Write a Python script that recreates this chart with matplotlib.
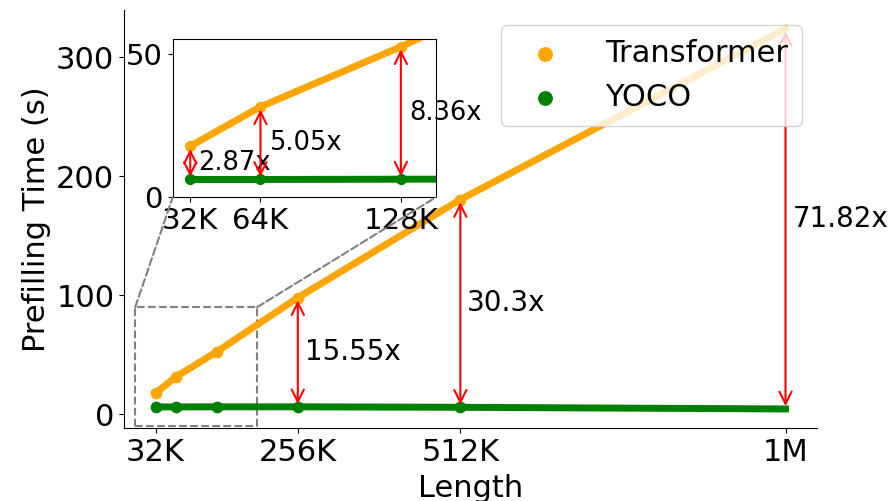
import matplotlib
matplotlib.use("Agg")
import matplotlib.pyplot as plt
from matplotlib.patches import Rectangle, ConnectionPatch

# sequence length in K tokens
lengths = [32, 64, 128, 256, 512, 1024]
tick_labels = ["32K", "256K", "512K", "1M"]
tick_pos = [32, 256, 512, 1024]

transformer = [17.8, 31.5, 52.4, 98.0, 180.4, 324.0]
yoco = [6.2, 6.2, 6.3, 6.3, 5.9, 4.5]
speedups = ["2.87x", "5.05x", "8.36x", "15.55x", "30.3x", "71.82x"]

ORANGE = "orange"
GREEN = "green"

fig = plt.figure(figsize=(8.93, 5.01), dpi=100)
ax = fig.add_axes([0.1389, 0.1457, 0.776, 0.834])

# -------------------------------------------------
# main plot
# -------------------------------------------------
ax.plot(lengths, transformer, color=ORANGE, lw=5, zorder=2)
ax.plot(lengths, yoco, color=GREEN, lw=5, zorder=2)
ax.scatter(lengths[:-1], transformer[:-1], color=ORANGE, s=55, zorder=3, label="Transformer")
ax.scatter(lengths[:-1], yoco[:-1], color=GREEN, s=55, zorder=3, label="YOCO")

for x, t, y, s in list(zip(lengths, transformer, yoco, speedups))[3:]:
    ax.annotate("", xy=(x, t), xytext=(x, y),
                arrowprops=dict(arrowstyle="<->", color="red", lw=1.5, mutation_scale=22))
    ax.annotate(s, xy=(x, (t + y) / 2), xytext=(5, 0), textcoords="offset points",
                ha="left", va="center", fontsize=20)

# zoom box around the short lengths
ax.add_patch(Rectangle((0, -10), 192, 100, fill=False, ls="--", lw=1.5,
                       edgecolor="gray", zorder=1))

ax.set_xlim(-17.6, 1073.6)
ax.set_ylim(-11.5, 339.5)
ax.set_xticks(tick_pos)
ax.set_xticklabels(tick_labels)
ax.set_yticks([0, 100, 200, 300])
ax.tick_params(labelsize=22)
ax.set_xlabel("Length", fontsize=22, labelpad=5)
ax.set_ylabel("Prefilling Time (s)", fontsize=22)
ax.spines["top"].set_visible(False)
ax.spines["right"].set_visible(False)
ax.legend(loc="upper right", fontsize=22, markerscale=1.3,
          borderpad=0.45, handletextpad=0.95)

# -------------------------------------------------
# inset
# -------------------------------------------------
axin = fig.add_axes([0.1934, 0.6062, 0.2948, 0.3154])
axin.plot(lengths, transformer, color=ORANGE, lw=5, marker="o", markersize=7)
axin.plot(lengths, yoco, color=GREEN, lw=5, marker="o", markersize=7)

for x, t, y, s in list(zip(lengths, transformer, yoco, speedups))[:3]:
    axin.annotate("", xy=(x, t), xytext=(x, y),
                  arrowprops=dict(arrowstyle="<->", color="red", lw=1.5, mutation_scale=22))
    axin.annotate(s, xy=(x, (t + y) / 2), xytext=(6, 0), textcoords="offset points",
                  ha="left", va="center", fontsize=18.5)

axin.set_xlim(24, 144)
axin.set_ylim(0, 55)
axin.set_xticks(lengths[:3])
axin.set_xticklabels(["32K", "64K", "128K"])
axin.set_yticks([0, 50])
axin.tick_params(labelsize=21)

for xa, xb in [(0, 0), (192, 1)]:
    con = ConnectionPatch(xyA=(xa, 90), coordsA=ax.transData,
                          xyB=(xb, 0), coordsB=axin.transAxes,
                          ls="--", lw=1.5, color="gray")
    fig.add_artist(con)

plt.savefig("out.png", dpi=100)
